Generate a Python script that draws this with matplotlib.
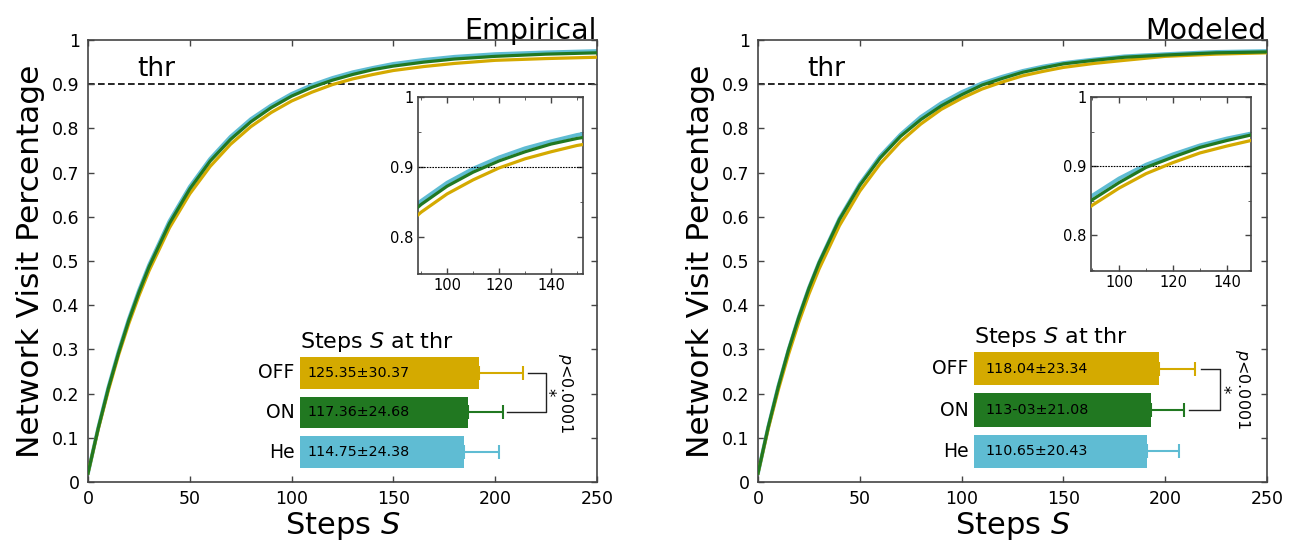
import numpy as np
import matplotlib.pyplot as plt
from matplotlib.ticker import FormatStrFormatter, MultipleLocator

plt.rcParams['font.family'] = ['DejaVu Sans']
plt.rcParams['mathtext.fontset'] = 'dejavusans'

# Curves
steps = [0, 5, 10, 15, 20, 25, 30, 40, 50, 60, 70, 80, 90, 100, 110, 120,
         130, 140, 150, 165, 180, 200, 225, 250]

emp_he = [0.020, 0.122, 0.214, 0.295, 0.368, 0.433, 0.491, 0.590, 0.668, 0.731, 0.781, 0.821,
          0.852, 0.878, 0.898, 0.914, 0.927, 0.937, 0.946, 0.955, 0.962, 0.968, 0.972, 0.975]
emp_on = [0.020, 0.121, 0.212, 0.292, 0.365, 0.429, 0.487, 0.585, 0.663, 0.726, 0.775, 0.815,
          0.847, 0.873, 0.893, 0.909, 0.922, 0.933, 0.941, 0.950, 0.957, 0.963, 0.968, 0.971]
emp_off = [0.020, 0.119, 0.207, 0.287, 0.358, 0.421, 0.478, 0.575, 0.652, 0.714, 0.764, 0.804,
           0.836, 0.862, 0.882, 0.899, 0.912, 0.922, 0.931, 0.940, 0.947, 0.954, 0.958, 0.961]

mod_he = [0.020, 0.124, 0.217, 0.299, 0.373, 0.439, 0.497, 0.596, 0.674, 0.737, 0.786, 0.826,
          0.857, 0.882, 0.902, 0.917, 0.930, 0.940, 0.948, 0.956, 0.963, 0.968, 0.973, 0.975]
mod_on = [0.020, 0.124, 0.216, 0.299, 0.372, 0.438, 0.496, 0.594, 0.671, 0.733, 0.782, 0.820,
          0.851, 0.876, 0.898, 0.913, 0.927, 0.937, 0.946, 0.954, 0.961, 0.966, 0.971, 0.973]
mod_off = [0.020, 0.120, 0.209, 0.289, 0.361, 0.425, 0.482, 0.580, 0.658, 0.720, 0.770, 0.810,
           0.843, 0.868, 0.889, 0.905, 0.919, 0.929, 0.938, 0.947, 0.954, 0.963, 0.968, 0.971]

# Steps at threshold (bar insets)
groups = ['OFF', 'ON', 'He']
emp_mean = [125.35, 117.36, 114.75]
emp_sd = [30.37, 24.68, 24.38]
emp_text = ['125.35±30.37', '117.36±24.68', '114.75±24.38']
mod_mean = [118.04, 113.03, 110.65]
mod_sd = [23.34, 21.08, 20.43]
mod_text = ['118.04±23.34', '113-03±21.08', '110.65±20.43']
thr = 0.9

colors = {'OFF': '#D4AA00', 'ON': '#217821', 'He': '#5FBCD3'}

W, H = 1294, 542
fig = plt.figure(figsize=(W / 100, H / 100), dpi=100)


def box(x0, y0, x1, y1):
    # pixel box -> figure fraction
    return [x0 / W, 1 - y1 / H, (x1 - x0) / W, (y1 - y0) / H]


def style(ax, size):
    ax.tick_params(direction='in', top=True, right=True, labelsize=size,
                   length=4, width=1, pad=6, color='#444444')
    for s in ax.spines.values():
        s.set_color('#444444')
        s.set_linewidth(1.2)
    ax.xaxis.set_major_formatter(FormatStrFormatter('%g'))
    ax.yaxis.set_major_formatter(FormatStrFormatter('%g'))


def curves(ax, he, on, off, lw):
    ax.plot(steps, he, color=colors['He'], lw=lw * 1.2, zorder=2)
    ax.plot(steps, off, color=colors['OFF'], lw=lw, zorder=3)
    ax.plot(steps, on, color=colors['ON'], lw=lw, zorder=4)


def panel(mainb, insb, ins_xlim, barb, title, he, on, off, mean, sd, texts, txt_off):
    ax = fig.add_axes(box(*mainb))
    curves(ax, he, on, off, 2.3)
    ax.axhline(thr, color='black', lw=1.2, ls=(0, (4, 2)), zorder=1)
    ax.text(24, thr + 0.004, 'thr', fontsize=19, va='bottom')
    ax.set_xlim(0, 250)
    ax.set_ylim(0, 1)
    ax.xaxis.set_major_locator(MultipleLocator(50))
    ax.yaxis.set_major_locator(MultipleLocator(0.1))
    style(ax, 12.5)
    ax.set_xlabel('Steps $S$', fontsize=22, labelpad=1)
    ax.set_ylabel('Network Visit Percentage', fontsize=22.5, labelpad=5)
    ax.set_title(title, loc='right', fontsize=20.5, pad=1)

    # zoomed inset
    ai = fig.add_axes(box(*insb))
    curves(ai, he, on, off, 2.3)
    ai.axhline(thr, color='black', lw=0.8, ls=(0, (1.5, 1)))
    ai.set_xlim(*ins_xlim)
    ai.set_ylim(0.748, 1.0)
    ai.xaxis.set_major_locator(MultipleLocator(20))
    ai.xaxis.set_minor_locator(MultipleLocator(10))
    ai.yaxis.set_major_locator(MultipleLocator(0.1))
    ai.yaxis.set_minor_locator(MultipleLocator(0.05))
    style(ai, 10.5)
    ai.tick_params(which='minor', direction='in', top=True, right=True, length=2.5,
                   color='#444444')
    ai.tick_params(pad=3)

    # bar inset
    ab = fig.add_axes(box(*barb))
    ypos = [2, 1, 0]
    for g, y, m, s, t in zip(groups, ypos, mean, sd, texts):
        c = colors[g]
        ab.barh(y, m, height=0.8, color=c)
        ab.errorbar(m, y, xerr=[[0], [s]], color=c, capsize=5, lw=1.5, capthick=1.5)
        ab.annotate(t, (0, y), xytext=(txt_off, 0), textcoords='offset points',
                    fontsize=10.3, va='center', ha='left')
        ab.annotate(g, (0, y), xytext=(-4, 0), textcoords='offset points',
                    fontsize=13.5, va='center', ha='right')
    ab.text(0, 2.47, 'Steps $S$ at thr', fontsize=16, va='bottom', ha='left')
    off_cap = mean[0] + sd[0]
    on_cap = mean[1] + sd[1]
    vx = off_cap + 16
    ab.plot([off_cap + 3.5, vx, vx, on_cap + 3], [2, 2, 1, 1], color='#222222', lw=1)
    ab.text(vx + 1.5, 1.5, '*', fontsize=12, ha='center', va='center', rotation=270)
    ab.text(vx + 14, 1.5, '$p$<0.0001', fontsize=11.5, ha='center', va='center',
            rotation=270)
    ab.set_xlim(0, 200)
    ab.set_ylim(-0.5, 2.5)
    ab.axis('off')


panel((88, 40, 597, 482), (418, 97, 583, 274), (88.8, 152.3),
      (300, 353, 586, 472), 'Empirical', emp_he, emp_on, emp_off,
      emp_mean, emp_sd, emp_text, 5.5)
panel((758, 40, 1267, 482), (1091, 97, 1251, 271), (89.6, 148.9),
      (974, 348, 1287, 472), 'Modeled', mod_he, mod_on, mod_off,
      mod_mean, mod_sd, mod_text, 8.5)

fig.savefig('out.png', dpi=100)
